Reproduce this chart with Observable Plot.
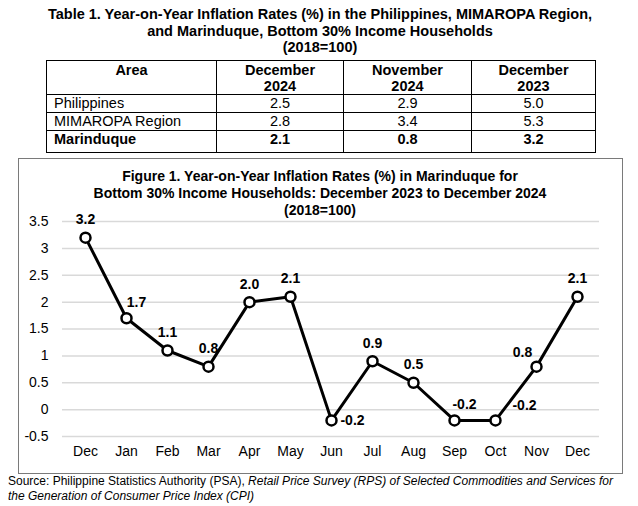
<!DOCTYPE html>
<html>
<head>
<meta charset="utf-8">
<script src="https://cdn.jsdelivr.net/npm/d3@7"></script>
<script src="https://cdn.jsdelivr.net/npm/@observablehq/plot@0.6"></script>
<style>
  html, body { margin: 0; padding: 0; background: #fff; }
  body { width: 638px; height: 506px; position: relative; overflow: hidden;
         font-family: Arial, "Liberation Sans", sans-serif; color: #000; }
  .abs { position: absolute; }
  #ttitle { left: 0; width: 640px; top: 6px; text-align: center; font-weight: bold;
            font-size: 14.5px; line-height: 16.5px; }
  table { position: absolute; left: 46px; top: 60px; border-collapse: collapse;
          font-size: 14.5px; table-layout: fixed; width: 549px; }
  td, th { border: 1px solid #000; padding: 0; }
  th { font-weight: bold; line-height: 16px; height: 32px; vertical-align: top; padding-top: 1px; }
  td { text-align: center; line-height: 17px; height: 17px; }
  td.area { text-align: left; padding-left: 7px; }
  tr.bold td { font-weight: bold; height: 21px; vertical-align: top; }
  #box { left: 18px; top: 158px; width: 605px; height: 316px; box-sizing: border-box;
         border: 1px solid #7a7a7a; }
  #ftitle { left: 0; width: 640px; top: 168px; text-align: center; font-weight: bold;
            font-size: 14px; line-height: 16.8px; }
  #chart { left: 0; top: 200px; }
  #source { left: 8px; top: 474px; font-size: 12px; line-height: 15px; }
</style>
</head>
<body>
<div id="ttitle" class="abs"></div>
<table id="tbl"></table>
<div id="box" class="abs"></div>
<div id="ftitle" class="abs"></div>
<div id="chart" class="abs"></div>
<div id="source" class="abs"></div>
<script>
// ---- Table data ----
const tableTitle = ["Table 1. Year-on-Year Inflation Rates (%) in the Philippines, MIMAROPA Region,",
                    "and Marinduque, Bottom 30% Income Households", "(2018=100)"];
const tableHeaders = [["Area"], ["December", "2024"], ["November", "2024"], ["December", "2023"]];
const tableAreas = ["Philippines", "MIMAROPA Region", "Marinduque"];
const tableDec2024 = [2.5, 2.8, 2.1];
const tableNov2024 = [2.9, 3.4, 0.8];
const tableDec2023 = [5.0, 5.3, 3.2];

// ---- Chart data ----
const figureTitle = ["Figure 1. Year-on-Year Inflation Rates (%) in Marinduque for",
                     "Bottom 30% Income Households: December 2023 to December 2024", "(2018=100)"];
const periods = ["Dec 2023", "Jan 2024", "Feb 2024", "Mar 2024", "Apr 2024", "May 2024", "Jun 2024",
                 "Jul 2024", "Aug 2024", "Sep 2024", "Oct 2024", "Nov 2024", "Dec 2024"];
const monthLabels = ["Dec", "Jan", "Feb", "Mar", "Apr", "May", "Jun", "Jul", "Aug", "Sep", "Oct", "Nov", "Dec"];
const inflation = [3.2, 1.7, 1.1, 0.8, 2.0, 2.1, -0.2, 0.9, 0.5, -0.2, -0.2, 0.8, 2.1];
const labelPlacement = ["above", "aboveRight", "above", "above", "above", "above", "right",
                        "above", "above", "aboveRight", "aboveFarRight", "aboveLeft", "above"];
const yTicks = [-0.5, 0, 0.5, 1, 1.5, 2, 2.5, 3, 3.5];
const sourceStart = "Source: Philippine Statistics Authority (PSA), ";
const sourceItalic = "Retail Price Survey (RPS) of Selected Commodities and Services for the Generation of Consumer Price Index (CPI)";

// ---- Build table ----
document.getElementById("ttitle").innerHTML = tableTitle.join("<br>");
const tbl = document.getElementById("tbl");
const colW = [170, 127, 128, 124];
let html = "<colgroup>" + colW.map(w => `<col style="width:${w}px">`).join("") + "</colgroup>";
html += "<tr>" + tableHeaders.map(h => `<th>${h.join("<br>")}</th>`).join("") + "</tr>";
tableAreas.forEach((a, i) => {
  html += `<tr class="${i === tableAreas.length - 1 ? "bold" : ""}"><td class="area">${a}</td>` +
    [tableDec2024[i], tableNov2024[i], tableDec2023[i]].map(v => `<td>${v.toFixed(1)}</td>`).join("") + "</tr>";
});
tbl.innerHTML = html;

document.getElementById("ftitle").innerHTML = figureTitle.join("<br>");
document.getElementById("source").innerHTML = sourceStart + "<i>" + sourceItalic.replace("Services for ", "Services for<br>") + "</i>";

// ---- Chart ----
const rows = periods.map((p, i) => ({period: p, month: monthLabels[i], value: inflation[i],
                                     label: inflation[i].toFixed(1), place: labelPlacement[i]}));
const monthOf = new Map(periods.map((p, i) => [p, monthLabels[i]]));
const offsets = {
  above: {dx: 0, dy: -18},
  aboveRight: {dx: 10, dy: -16},
  right: {dx: 21, dy: 0},
  aboveFarRight: {dx: 29, dy: -15},
  aboveLeft: {dx: -14, dy: -14}
};
const textMarks = Object.entries(offsets).map(([k, o]) =>
  Plot.text(rows.filter(r => r.place === k), {x: "period", y: "value", text: "label",
    dx: o.dx, dy: o.dy, fontWeight: "bold", fontSize: 14, fill: "#000"}));

const chart = Plot.plot({
  width: 638,
  height: 265,
  marginTop: 21,
  marginBottom: 29,
  marginLeft: 62,
  marginRight: 39,
  style: {fontFamily: 'Arial, "Liberation Sans", sans-serif', fontSize: "14px", color: "#000", background: "transparent"},
  x: {type: "point", domain: periods, padding: 0.5, label: null, tickSize: 0, tickPadding: 10,
      tickFormat: d => monthOf.get(d)},
  y: {domain: [-0.5, 3.5], ticks: yTicks, label: null, tickSize: 0, tickPadding: 14,
      tickFormat: d => String(d)},
  marks: [
    Plot.ruleY(yTicks, {stroke: "#d9d9d9", strokeWidth: 1.5}),
    Plot.line(rows, {x: "period", y: "value", stroke: "#000", strokeWidth: 3}),
    Plot.dot(rows, {x: "period", y: "value", r: 5, fill: "#fff", stroke: "#000", strokeWidth: 2.5}),
    ...textMarks
  ]
});
document.getElementById("chart").appendChild(chart);
</script>
</body>
</html>
